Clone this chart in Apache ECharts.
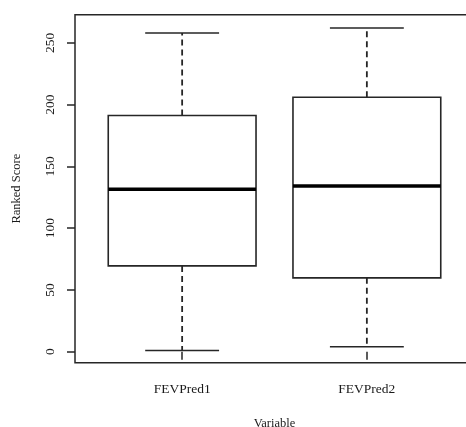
<!DOCTYPE html>
<html>
<head>
<meta charset="utf-8">
<script src="https://cdn.jsdelivr.net/npm/echarts@6/dist/echarts.min.js"></script>
<style>html,body{margin:0;padding:0;background:#fff;}#chart{width:466px;height:427px;}</style>
</head>
<body>
<div id="chart"></div>
<script>
var categories = ['FEVPred1', 'FEVPred2'];
var mins = [1, 4];
var q1s = [69.5, 59.8];
var medians = [131.5, 134.2];
var q3s = [191.3, 206.1];
var maxs = [258.1, 262.1];
var yTicks = [0, 50, 100, 150, 200, 250];
var xTicks = [1, 2];

var data = categories.map(function (c, i) {
  return [i + 1, mins[i], q1s[i], medians[i], q3s[i], maxs[i]];
});

var FONT = 'Liberation Serif';
var LINE = '#262626';

var chart = echarts.init(document.getElementById('chart'), null, {renderer: 'canvas'});
chart.setOption({
  backgroundColor: '#fff',
  animation: false,
  grid: {
    left: 75, right: -8, top: 14.7, bottom: 64.3,
    outerBoundsMode: 'none', containLabel: false,
    show: true, borderColor: LINE, borderWidth: 1.5, backgroundColor: 'transparent'
  },
  xAxis: {
    type: 'value', min: 0.42, max: 2.58,
    name: 'Variable', nameLocation: 'middle', nameGap: 55,
    nameTextStyle: {fontFamily: FONT, fontSize: 12.5, color: '#1a1a1a'},
    axisLine: {show: false},
    splitLine: {show: false},
    axisTick: {show: true, customValues: xTicks, length: 8, lineStyle: {color: LINE, width: 1.5}},
    axisLabel: {
      customValues: xTicks, margin: 20, fontFamily: FONT, fontSize: 13.5, color: '#1a1a1a',
      formatter: function (v) { return categories[Math.round(v) - 1] || ''; }
    }
  },
  yAxis: {
    type: 'value', min: -8.9, max: 272.9,
    name: 'Ranked Score', nameLocation: 'middle', nameGap: 52, nameRotate: 90,
    nameTextStyle: {fontFamily: FONT, fontSize: 12.5, color: '#1a1a1a'},
    axisLine: {show: false},
    splitLine: {show: false},
    axisTick: {show: true, customValues: yTicks, length: 8, lineStyle: {color: LINE, width: 1.5}},
    axisLabel: {customValues: yTicks, rotate: 90, margin: 18, fontFamily: FONT, fontSize: 13.5, color: '#1a1a1a'}
  },
  series: [{
    type: 'custom',
    data: data,
    clip: false,
    renderItem: function (params, api) {
      var x = api.value(0);
      var mn = api.value(1), q1 = api.value(2), md = api.value(3), q3 = api.value(4), mx = api.value(5);
      var bl = api.coord([x - 0.4, q1]);
      var tr = api.coord([x + 0.4, q3]);
      var cl = api.coord([x - 0.2, 0])[0];
      var cr = api.coord([x + 0.2, 0])[0];
      var cx = api.coord([x, 0])[0];
      var yMin = api.coord([x, mn])[1];
      var yMax = api.coord([x, mx])[1];
      var yMed = api.coord([x, md])[1];
      var solid = {stroke: LINE, lineWidth: 1.6};
      var dashed = {stroke: LINE, lineWidth: 1.8, lineDash: [6, 4]};
      return {
        type: 'group',
        children: [
          {type: 'line', shape: {x1: cx, y1: tr[1], x2: cx, y2: yMax}, style: dashed},
          {type: 'line', shape: {x1: cx, y1: bl[1], x2: cx, y2: yMin}, style: dashed},
          {type: 'line', shape: {x1: cl, y1: yMax, x2: cr, y2: yMax}, style: solid},
          {type: 'line', shape: {x1: cl, y1: yMin, x2: cr, y2: yMin}, style: solid},
          {type: 'rect', shape: {x: bl[0], y: tr[1], width: tr[0] - bl[0], height: bl[1] - tr[1]},
            style: {fill: '#fff', stroke: LINE, lineWidth: 1.6}},
          {type: 'line', shape: {x1: bl[0], y1: yMed, x2: tr[0], y2: yMed}, style: {stroke: '#000', lineWidth: 3.4}}
        ]
      };
    }
  }]
});
</script>
</body>
</html>
